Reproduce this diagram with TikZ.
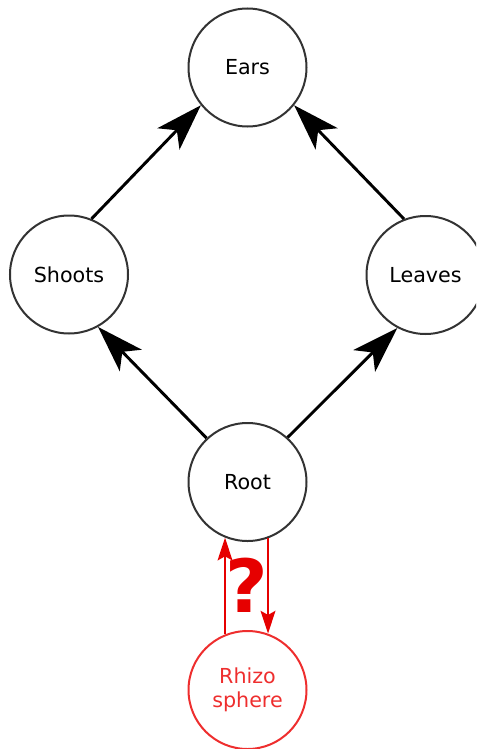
\documentclass[tikz,border=0pt]{standalone}
\usepackage{fontspec}
\setmainfont{DejaVu Sans}
\usepackage{xcolor}
\usetikzlibrary{arrows.meta}
\definecolor{ringgray}{RGB}{51,51,51}
\definecolor{rhizored}{RGB}{238,46,46}
\definecolor{flowred}{RGB}{230,0,0}

\begin{document}
\begin{tikzpicture}[x=0.75pt, y=-0.75pt, >=Stealth]
    \tikzstyle{organ} = [circle, draw=ringgray, line width=1.5pt, minimum size=88.5pt, inner sep=0pt, align=center, font=\fontsize{15.5}{17.6}\selectfont]
    \tikzstyle{soil} = [organ, draw=rhizored, text=rhizored]
    \tikzstyle{flow} = [-{Stealth[length=35pt, width=23pt, inset=9pt]}, line width=2.2pt]
    \tikzstyle{exchange} = [-{Stealth[length=17pt, width=11pt, inset=3pt]}, line width=2pt, draw=flowred]

    \clip (0,0) rectangle (476,749);

    \node (ears)   [organ] at (247.5,67.5) {Ears};
    \node (shoots) [organ] at (69,274.5)   {Shoots};
    \node (leaves) [organ] at (425.5,275)  {Leaves};
    \node (root)   [organ] at (247.5,482)  {Root};
    \node (rhizo)  [soil]  at (247.5,690)  {Rhizo\\sphere};
    \node (query)  [text=flowred, font=\bfseries\fontsize{55}{60}\selectfont] at (247,585) {?};

    \draw [flow] (shoots.68) -- (ears.219);
    \draw [flow] (leaves.111) -- (ears.321);
    \draw [flow] (root.133) -- (shoots.299);
    \draw [flow] (root.48) -- (leaves.242);
    % exchange with the soil
    \draw [exchange] (rhizo.112) -- (root.248);
    \draw [exchange] (root.290) -- (rhizo.70);
\end{tikzpicture}
\end{document}
